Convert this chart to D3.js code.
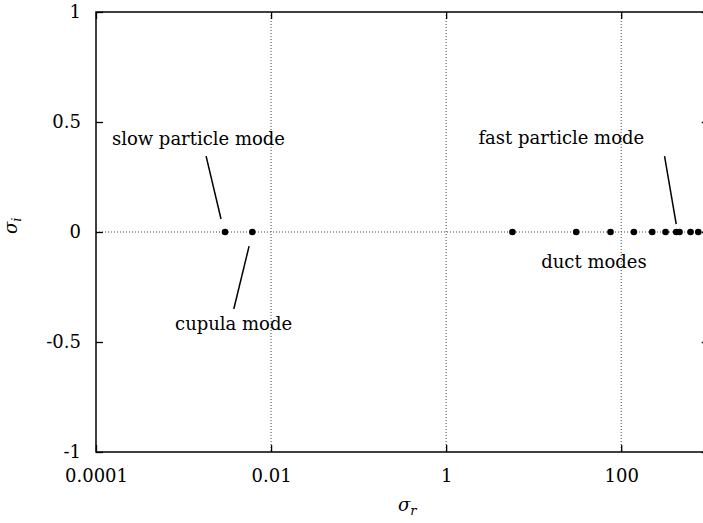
<!DOCTYPE html>
<html>
<head>
<meta charset="utf-8">
<script src="https://cdn.jsdelivr.net/npm/d3@7"></script>
<style>
html,body{margin:0;padding:0;background:#fff;}
svg{display:block;}
text{font-family:"DejaVu Serif","Liberation Serif",serif;fill:#000;}
</style>
</head>
<body>
<svg id="chart" width="703" height="523"></svg>
<script>
// ---- data ----
const sigmaR = [0.00298, 0.00611, 5.72, 30.6, 75.5, 139.7, 226, 321, 425, 464, 619, 759];
const sigmaI = [0, 0, 0, 0, 0, 0, 0, 0, 0, 0, 0, 0];
const xTicks = [0.0001, 0.01, 1, 100];
const xTickLabels = ["0.0001", "0.01", "1", "100"];
const yTicks = [-1, -0.5, 0, 0.5, 1];
const yTickLabels = ["-1", "-0.5", "0", "0.5", "1"];
const labelTexts = ["slow particle mode", "cupula mode", "fast particle mode", "duct modes"];
const labelX = [0.000152, 0.0008, 2.34, 12.2];
const labelY = [0.395, -0.445, 0.40, -0.164];
const arrowX1 = [0.00181, 0.00561, 312.6];
const arrowY1 = [0.345, -0.064, 0.345];
const arrowX2 = [0.00268, 0.00375, 425];
const arrowY2 = [0.059, -0.35, 0.036];

// ---- layout ----
const FONT = "'DejaVu Serif','Liberation Serif',serif";
const svg = d3.select("#chart");
const mLeft = 96, mTop = 12, mBottom = 452, mRight = 708.75;
const x = d3.scaleLog().domain([1e-4, 1e3]).range([mLeft, mRight]);
const y = d3.scaleLinear().domain([-1, 1]).range([mBottom, mTop]);
const tickLen = 7;

svg.append("g").selectAll("line").data(xTicks.slice(1)).join("line")
  .attr("x1", d => x(d)).attr("x2", d => x(d))
  .attr("y1", mTop).attr("y2", mBottom)
  .attr("stroke", "#444").attr("stroke-width", 1).attr("stroke-dasharray", "1,2");

svg.append("line")
  .attr("x1", mLeft).attr("x2", mRight).attr("y1", y(0)).attr("y2", y(0))
  .attr("stroke", "#444").attr("stroke-width", 1).attr("stroke-dasharray", "1,2");

const xAxisB = d3.axisBottom(x).tickValues(xTicks).tickSize(-tickLen).tickFormat((d, i) => xTickLabels[i]).tickPadding(tickLen + 10);
const xAxisT = d3.axisTop(x).tickValues(xTicks).tickSize(-tickLen).tickFormat("");
const yAxisL = d3.axisLeft(y).tickValues(yTicks).tickSize(-tickLen).tickFormat((d, i) => yTickLabels[i]).tickPadding(tickLen + 8);
const yAxisR = d3.axisRight(y).tickValues(yTicks).tickSize(-tickLen).tickFormat("");

function style(g) {
  g.select(".domain").remove();
  g.selectAll(".tick line").attr("stroke", "#000").attr("stroke-width", 1.3);
  g.selectAll(".tick text").attr("font-size", 18).attr("font-family", FONT).attr("fill", "#000");
}
svg.append("g").attr("transform", `translate(0,${mBottom})`).call(xAxisB).call(style);
svg.append("g").attr("transform", `translate(0,${mTop})`).call(xAxisT).call(style);
svg.append("g").attr("transform", `translate(${mLeft},0)`).call(yAxisL).call(style);
svg.append("g").attr("transform", `translate(${mRight},0)`).call(yAxisR).call(style);

svg.append("rect").attr("x", mLeft).attr("y", mTop)
  .attr("width", mRight - mLeft).attr("height", mBottom - mTop)
  .attr("fill", "none").attr("stroke", "#000").attr("stroke-width", 1.5);

svg.append("g").selectAll("line").data(arrowX1).join("line")
  .attr("x1", (d, i) => x(arrowX1[i])).attr("y1", (d, i) => y(arrowY1[i]))
  .attr("x2", (d, i) => x(arrowX2[i])).attr("y2", (d, i) => y(arrowY2[i]))
  .attr("stroke", "#000").attr("stroke-width", 1.5);

svg.append("g").selectAll("circle").data(sigmaR).join("circle")
  .attr("cx", d => x(d)).attr("cy", (d, i) => y(sigmaI[i]))
  .attr("r", 3.3).attr("fill", "#000");

svg.append("g").selectAll("text").data(labelTexts).join("text")
  .attr("x", (d, i) => x(labelX[i])).attr("y", (d, i) => y(labelY[i]))
  .attr("font-family", FONT)
  .attr("font-size", 18)
  .text(d => d);

const xt = svg.append("text").attr("x", 398).attr("y", 511).attr("font-family", FONT).attr("font-size", 18).attr("font-style", "italic");
xt.append("tspan").text("σ");
xt.append("tspan").attr("font-size", 13).attr("dy", 4).text("r");

const yt = svg.append("text").attr("transform", "translate(17,234) rotate(-90)").attr("font-family", FONT).attr("font-size", 18).attr("font-style", "italic");
yt.append("tspan").text("σ");
yt.append("tspan").attr("font-size", 13).attr("dy", 4).text("i");
</script>
</body>
</html>
